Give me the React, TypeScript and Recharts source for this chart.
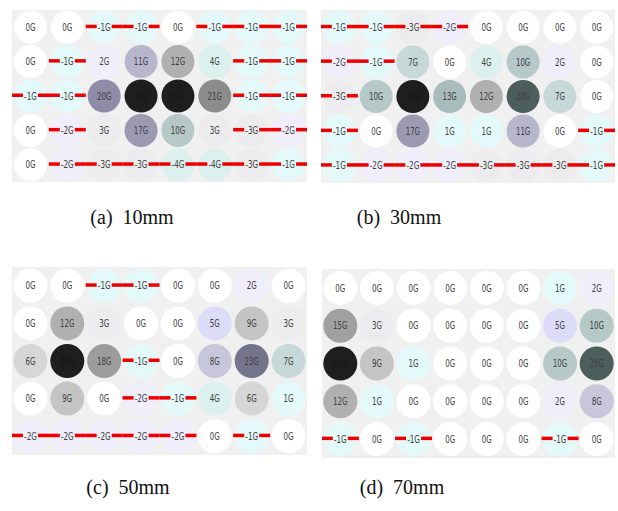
import React from "react";
import { Scatter, ScatterChart, XAxis, YAxis } from "recharts";

// gauge readings (G) per cell, 5 rows x 8 columns, for each depth
const grid10mm = [
  [0, 0, -1, -1, 0, -1, -1, -1],
  [0, -1, 2, 11, 12, 4, -1, -1],
  [-1, -1, 20, 33, 32, 21, -1, -1],
  [0, -2, 3, 17, 10, 3, -3, -2],
  [0, -2, -3, -3, -4, -4, -3, -1],
];

const grid30mm = [
  [-1, -1, -3, -2, 0, 0, 0, 0],
  [-2, -1, 7, 0, 4, 10, 2, 0],
  [-3, 10, 35, 13, 12, 28, 7, 0],
  [-1, 0, 17, 1, 1, 11, 0, -1],
  [-1, -2, -2, -2, -3, -3, -3, -1],
];

const grid50mm = [
  [0, 0, -1, -1, 0, 0, 2, 0],
  [0, 12, 3, 0, 0, 5, 9, 3],
  [6, 39, 18, -1, 0, 8, 23, 7],
  [0, 9, 0, -2, -1, 4, 6, 1],
  [-2, -2, -2, -2, -2, 0, -1, 0],
];

const grid70mm = [
  [0, 0, 0, 0, 0, 0, 1, 2],
  [15, 3, 0, 0, 0, 0, 5, 10],
  [31, 9, 1, 0, 0, 0, 10, 28],
  [12, 1, 0, 0, 0, 0, 2, 8],
  [-1, 0, -1, 0, 0, 0, -1, 0],
];

const captions = ["(a)  10mm", "(b)  30mm", "(c)  50mm", "(d)  70mm"];

const PALETTE: Record<number, string> = {
  0: "#ffffff",
  1: "#e4fafa",
  2: "#f0eefb",
  3: "#ececee",
  4: "#dcf0ee",
  5: "#dcdcf8",
  6: "#d6d6d6",
  7: "#c6d8d8",
  8: "#c8c6da",
  9: "#c4c4c4",
  10: "#b6c8c8",
  11: "#b8b6cc",
  12: "#b0b0b0",
  13: "#a8bcbc",
  15: "#a0a0a0",
  17: "#9c9ab2",
  18: "#9c9c9c",
  20: "#8e8ca6",
  21: "#8c8c8c",
  23: "#74748c",
  28: "#4c5e5c",
};

function cellFill(v: number) {
  const a = Math.abs(v);
  if (a >= 30) return "#1e1e1e";
  return PALETTE[a] ?? "#cccccc";
}

// squeeze labels to the narrow look of the original font
function labelWidth(s: string) {
  let w = 0;
  for (const ch of s) w += ch === "G" ? 5.6 : ch === "-" ? 2.8 : 4.4;
  return w;
}

function toPoints(grid: number[][]) {
  return grid.flatMap((row, ri) =>
    row.map((v, ci) => ({ col: ci + 1, row: ri + 1, v }))
  );
}

function makeShape(r: number) {
  // eslint-disable-next-line @typescript-eslint/no-explicit-any
  return (props: any) => {
    const { cx, cy, payload } = props;
    const v: number = payload.v;
    const dark = Math.abs(v) >= 30;
    const label = `${v}G`;
    return (
      <g>
        <circle cx={cx} cy={cy} r={r} fill={cellFill(v)} />
        {v < 0 && (
          <>
            <rect x={cx - 18.5} y={cy - 2.5} width={11} height={3.5} fill="#ee0000" />
            <rect x={cx + 7.5} y={cy - 2.5} width={11} height={3.5} fill="#ee0000" />
          </>
        )}
        <text
          x={cx}
          y={cy}
          dy="0.36em"
          textAnchor="middle"
          fontSize={10}
          textLength={labelWidth(label)}
          lengthAdjust="spacingAndGlyphs"
          fontFamily="'DejaVu Sans Condensed', 'Liberation Sans', sans-serif"
          fill={dark ? "#141414" : "#404040"}
        >
          {label}
        </text>
      </g>
    );
  };
}

interface PanelProps {
  grid: number[][];
  left: number;
  top: number;
  width: number;
  height: number;
  r: number;
}

function Panel({ grid, left, top, width, height, r }: PanelProps) {
  return (
    <div
      style={{
        position: "absolute",
        left,
        top,
        width,
        height,
        background: "#f0f0f0",
      }}
    >
      <ScatterChart
        width={width}
        height={height}
        margin={{ top: 0, right: 0, bottom: 0, left: 0 }}
      >
        <XAxis type="number" dataKey="col" domain={[0.5, 8.5]} hide />
        <YAxis type="number" dataKey="row" domain={[0.5, 5.5]} reversed hide />
        <Scatter
          data={toPoints(grid)}
          shape={makeShape(r)}
          isAnimationActive={false}
        />
      </ScatterChart>
    </div>
  );
}

function Caption({ text, cx, cy }: { text: string; cx: number; cy: number }) {
  return (
    <div
      style={{
        position: "absolute",
        left: cx - 100,
        top: cy - 12,
        width: 200,
        textAlign: "center",
        fontFamily: "'Liberation Serif', 'DejaVu Serif', serif",
        fontSize: 20,
        lineHeight: "24px",
        whiteSpace: "pre",
        color: "#111",
      }}
    >
      {text}
    </div>
  );
}

export default function App() {
  return (
    <div
      style={{
        position: "absolute",
        left: 0,
        top: 0,
        width: 618,
        height: 511,
        background: "#ffffff",
        overflow: "hidden",
      }}
    >
      <Panel grid={grid10mm} left={12} top={10} width={295} height={172} r={16.5} />
      <Panel grid={grid30mm} left={321} top={10} width={294} height={173} r={16.5} />
      <Panel grid={grid50mm} left={12} top={267} width={295} height={188} r={17} />
      <Panel grid={grid70mm} left={322} top={269} width={293} height={189} r={17} />
      <Caption text={captions[0]} cx={132} cy={217} />
      <Caption text={captions[1]} cx={399} cy={217} />
      <Caption text={captions[2]} cx={128} cy={487} />
      <Caption text={captions[3]} cx={402} cy={487} />
    </div>
  );
}
